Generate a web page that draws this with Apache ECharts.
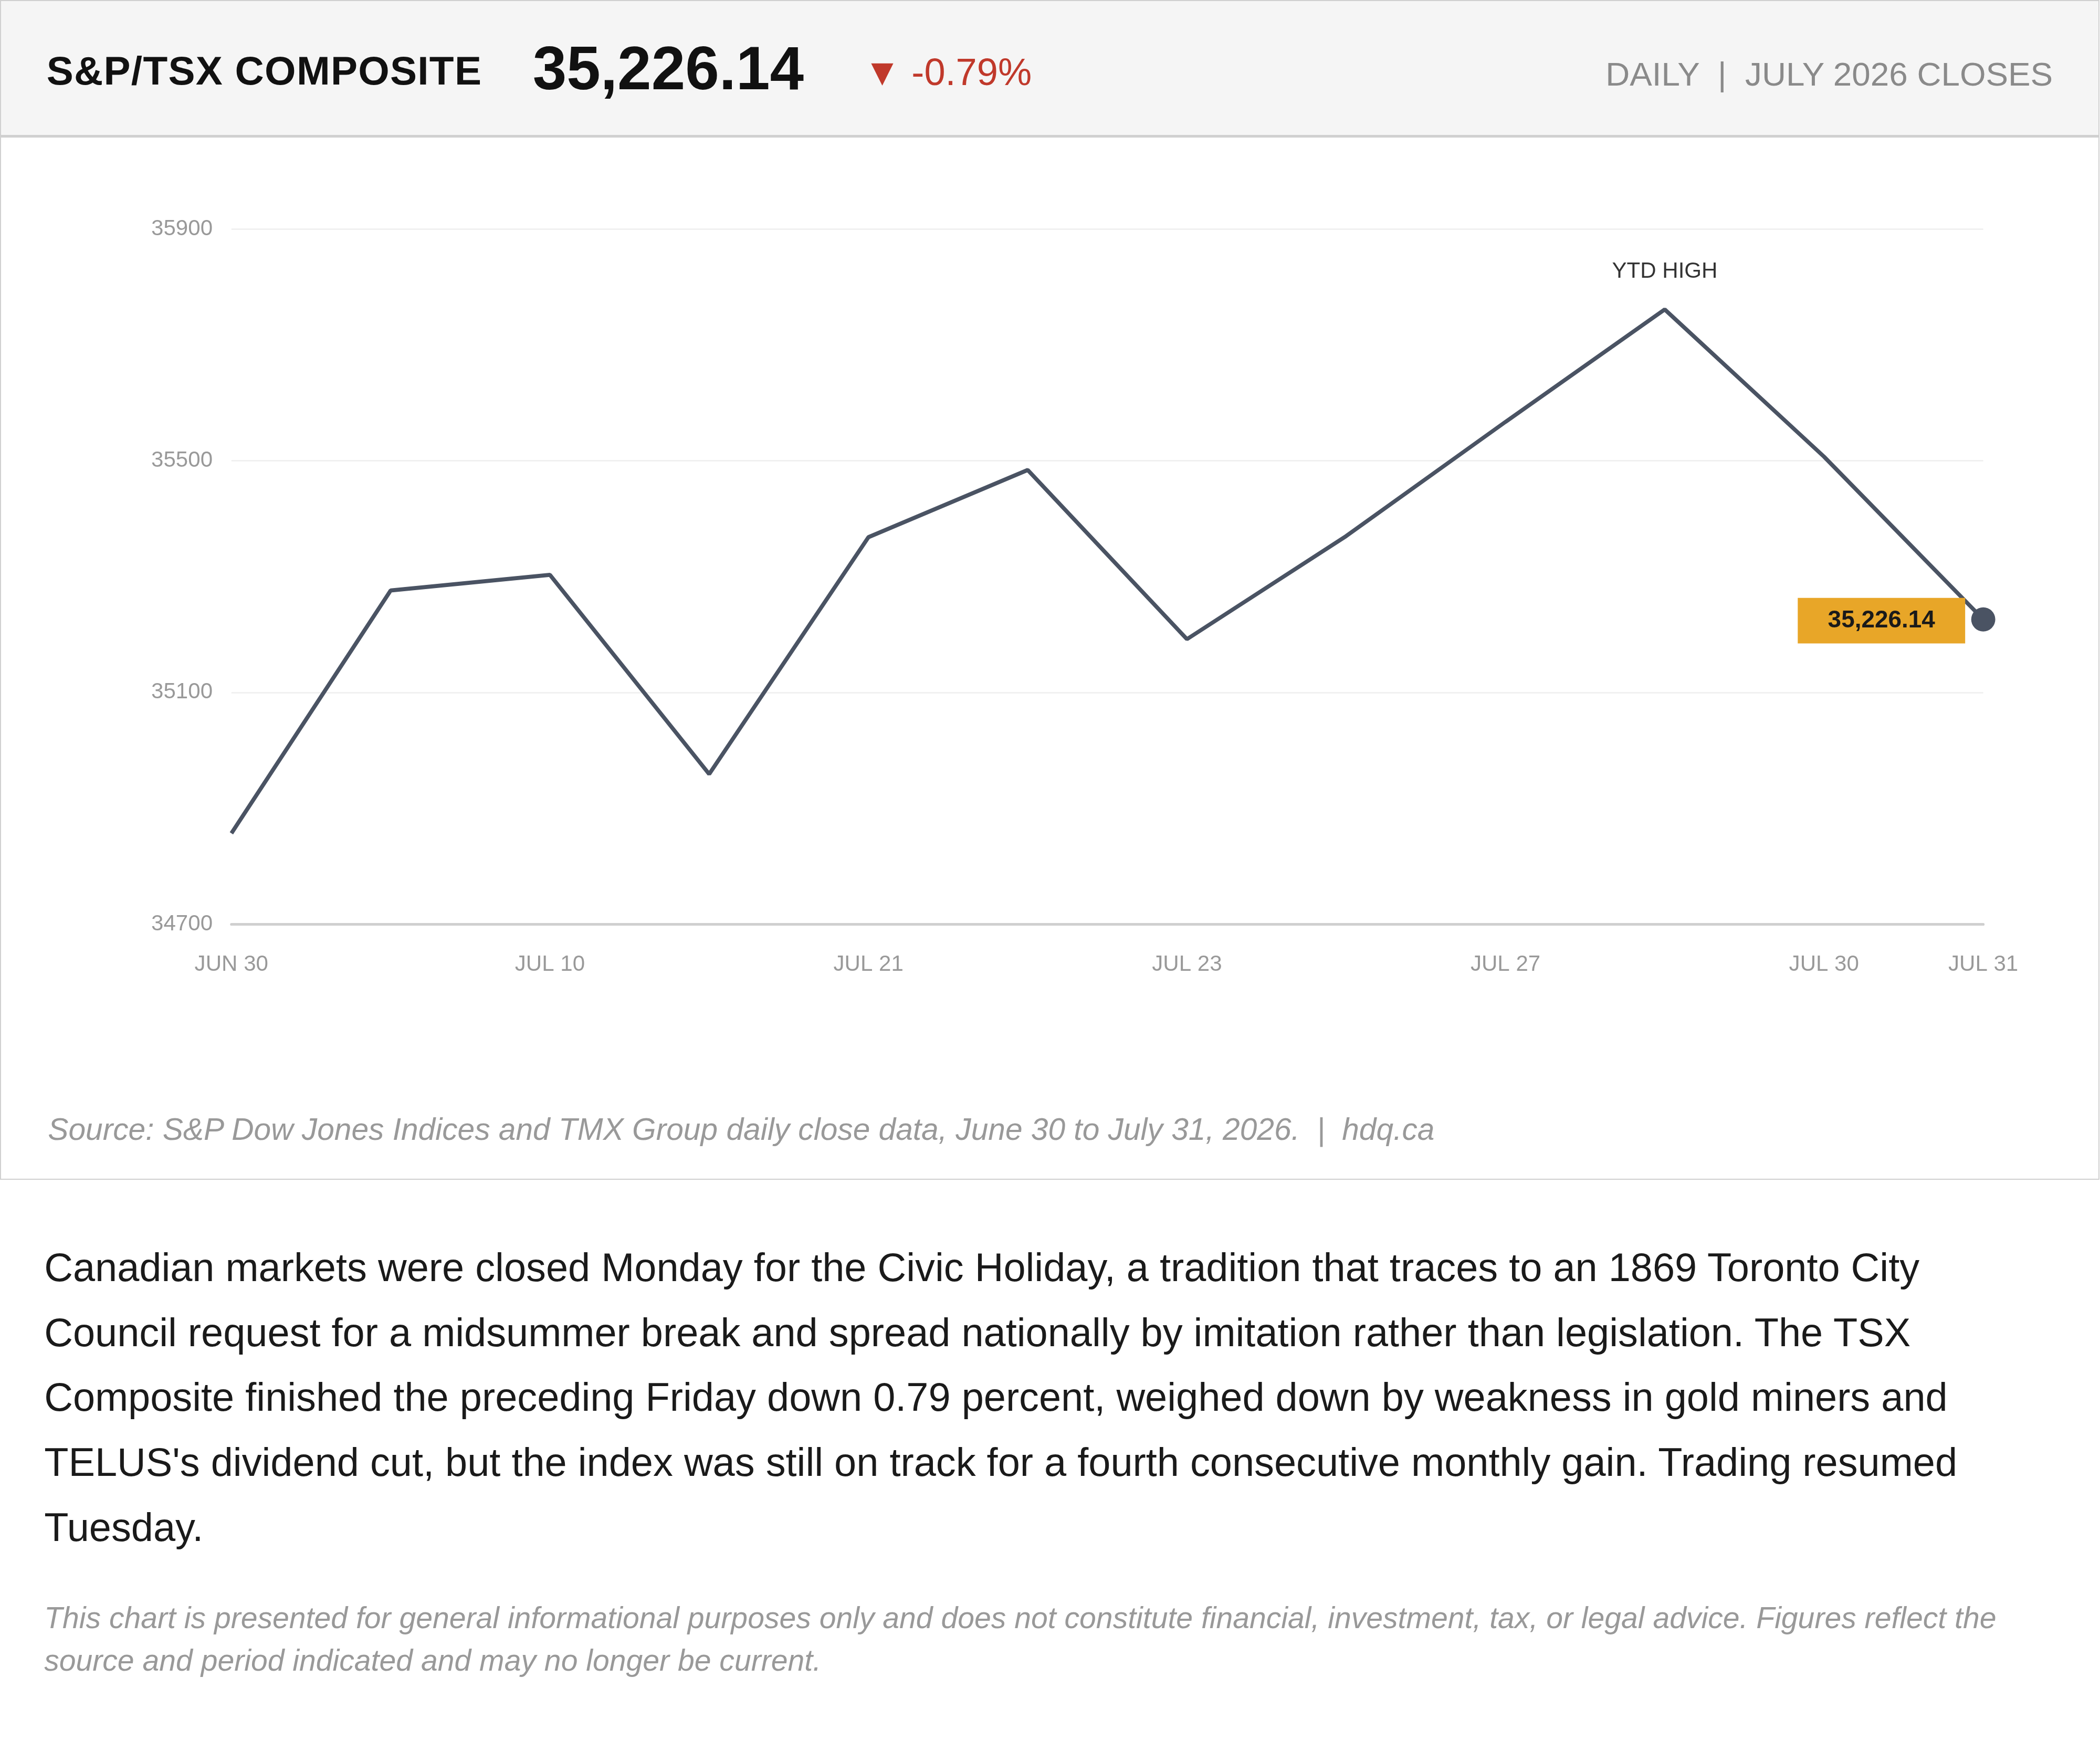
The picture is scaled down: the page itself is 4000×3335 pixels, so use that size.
<!DOCTYPE html>
<html><head><meta charset="utf-8">
<script src="https://cdn.jsdelivr.net/npm/echarts@6/dist/echarts.min.js"></script>
<style>
:root{--s:2.551px;}
body{margin:0;background:#fff;font-family:"Liberation Sans",Arial,sans-serif;width:4000px;height:3335px;overflow:hidden;position:relative;}
#head{position:absolute;left:0;top:0;width:calc(1566*var(--s));height:calc(100*var(--s));background:#f5f5f5;border:calc(1*var(--s)) solid #d0d0d0;border-bottom:calc(2*var(--s)) solid #d0d0d0;}
#head span{position:absolute;white-space:nowrap;}
#panel{position:absolute;left:0;top:calc(102*var(--s));width:calc(1566*var(--s));height:calc(778*var(--s));border:calc(1*var(--s)) solid #d0d0d0;border-top:none;}
#bar{position:absolute;left:0;top:0;width:calc(1566*var(--s));height:calc(778*var(--s));}
#src{position:absolute;left:calc(35*var(--s));top:calc(728*var(--s));font-size:calc(23*var(--s));font-style:italic;color:#999;white-space:nowrap;}
#para{position:absolute;left:calc(33*var(--s));top:calc(922*var(--s));width:calc(1470*var(--s));font-size:calc(29.7*var(--s));line-height:calc(48.5*var(--s));color:#1a1a1a;}
#disc{position:absolute;left:calc(33*var(--s));top:calc(1192*var(--s));width:calc(1510*var(--s));font-size:calc(22.4*var(--s));line-height:calc(32*var(--s));color:#999;font-style:italic;}
</style></head><body>
<div id="head">
<span style="left:calc(34*var(--s));top:calc(35*var(--s));font-size:calc(30*var(--s));font-weight:bold;color:#111;letter-spacing:calc(0.5*var(--s))">S&amp;P/TSX COMPOSITE</span>
<span style="left:calc(397*var(--s));top:calc(24*var(--s));font-size:calc(45.5*var(--s));font-weight:bold;color:#111;">35,226.14</span>
<span style="left:calc(644*var(--s));top:calc(37*var(--s));font-size:calc(28.3*var(--s));color:#c0392b;">▼ -0.79%</span>
<span style="right:calc(34*var(--s));top:calc(40*var(--s));font-size:calc(25*var(--s));color:#8a8a8a;">DAILY &nbsp;|&nbsp; JULY 2026 CLOSES</span>
</div>
<div id="panel"><div id="bar"></div>
<div id="src">Source: S&amp;P Dow Jones Indices and TMX Group daily close data, June 30 to July 31, 2026. &nbsp;| &nbsp;hdq.ca</div>
</div>
<div id="para">Canadian markets were closed Monday for the Civic Holiday, a tradition that traces to an 1869 Toronto City Council request for a midsummer break and spread nationally by imitation rather than legislation. The TSX Composite finished the preceding Friday down 0.79 percent, weighed down by weakness in gold miners and TELUS's dividend cut, but the index was still on track for a fourth consecutive monthly gain. Trading resumed Tuesday.</div>
<div id="disc">This chart is presented for general informational purposes only and does not constitute financial, investment, tax, or legal advice. Figures reflect the source and period indicated and may no longer be current.</div>
<script>
var S = 4000 / 1568;
var categories = ['JUN 30', '', 'JUL 10', '', 'JUL 21', '', 'JUL 23', '', 'JUL 27', '', 'JUL 30', 'JUL 31'];
var closes = [34857, 35276, 35303, 34959, 35368, 35484, 35192, 35370, 35567, 35761, 35507, 35226.14];
var yTicks = [34700, 35100, 35500, 35900];

var chart = echarts.init(document.getElementById('bar'));
chart.setOption({
  animation: false,
  grid: {left: 172 * S, right: 86 * S, top: 69 * S, bottom: 190 * S},
  xAxis: {
    type: 'category', data: categories, boundaryGap: false,
    axisLine: {lineStyle: {color: '#cfcfcf', width: 2 * S}},
    axisTick: {show: false},
    axisLabel: {interval: 0, color: '#999', fontSize: 16.5 * S, margin: 22 * S, fontFamily: 'Liberation Sans'}
  },
  yAxis: {
    type: 'value', min: yTicks[0], max: yTicks[yTicks.length - 1], interval: 400,
    axisLine: {show: false}, axisTick: {show: false},
    axisLabel: {color: '#999', fontSize: 16.5 * S, margin: 14 * S, fontFamily: 'Liberation Sans', formatter: function (v) { return String(v); }},
    splitLine: {lineStyle: {color: '#eeeeee', width: 1 * S}}
  },
  series: [{
    type: 'line', data: closes,
    symbol: 'none',
    lineStyle: {color: '#4a5363', width: 3 * S},
    markPoint: {
      silent: true,
      data: [
        {coord: [9, closes[9]], symbol: 'circle', symbolSize: 1,
         itemStyle: {color: 'transparent'},
         label: {show: true, position: 'top', distance: 20 * S, formatter: 'YTD HIGH', color: '#333', fontSize: 16.5 * S, fontFamily: 'Liberation Sans'}},
        {coord: [11, closes[11]], symbol: 'rect', symbolSize: [125 * S, 34 * S], symbolOffset: [-76 * S, 1 * S],
         itemStyle: {color: '#e8a628'},
         label: {show: true, position: 'inside', formatter: '35,226.14', color: '#1a1a1a', fontWeight: 'bold', fontSize: 18 * S, fontFamily: 'Liberation Sans'}},
        {coord: [11, closes[11]], symbol: 'circle', symbolSize: 18 * S,
         itemStyle: {color: '#4a5363'}, label: {show: false}}
      ]
    }
  }]
});
</script>
</body></html>
